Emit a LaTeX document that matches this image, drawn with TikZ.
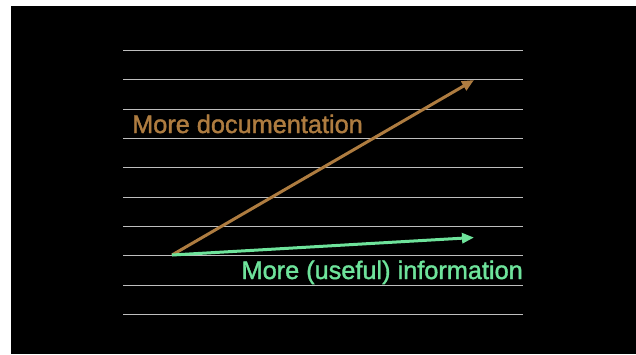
\documentclass[tikz,border=0pt]{standalone}
\usepackage{fontspec}
\setmainfont{Liberation Sans}
\newfontfamily\labelfont{Liberation Sans}[FakeBold=1.5]
\usepackage{tikz}
\usetikzlibrary{positioning}
\usetikzlibrary{arrows.meta}

\definecolor{docbrown}{HTML}{AE7C40}
\definecolor{infogreen}{HTML}{6EE39B}
\definecolor{rulegrey}{HTML}{BEBEBE}

\begin{document}
\begin{tikzpicture}[x=1bp, y=-1bp]
        \useasboundingbox (0, 0) rectangle (636, 354);
        \fill[black] (11, 6) rectangle (636, 354);
        % ruled lines
        \foreach \y in {50, 79.5, 109, 138.3, 167.6, 197, 226.3, 255.6, 285, 314.3}
            \draw[rulegrey, line width=0.9bp] (123, \y) -- (523, \y);
        \coordinate (origin) at (172, 255);
        \coordinate (docend) at (474, 80);
        \coordinate (infoend) at (474, 237.5);
        \node[anchor=base west, inner sep=0pt, text=docbrown, font=\labelfont\fontsize{25.3bp}{30bp}\selectfont] (doclabel) at (132, 133) {More documentation};
        \node[anchor=base east, inner sep=0pt, text=infogreen, font=\labelfont\fontsize{25.3bp}{30bp}\selectfont] (infolabel) at (523, 279) {More (useful) information};
        \draw[docbrown, line width=3bp, -{Triangle[length=12bp, width=10bp]}] (origin) -- (docend);
        \draw[infogreen, line width=3bp, -{Triangle[length=12bp, width=10bp]}] (origin) -- (infoend);
    \end{tikzpicture}
\end{document}
